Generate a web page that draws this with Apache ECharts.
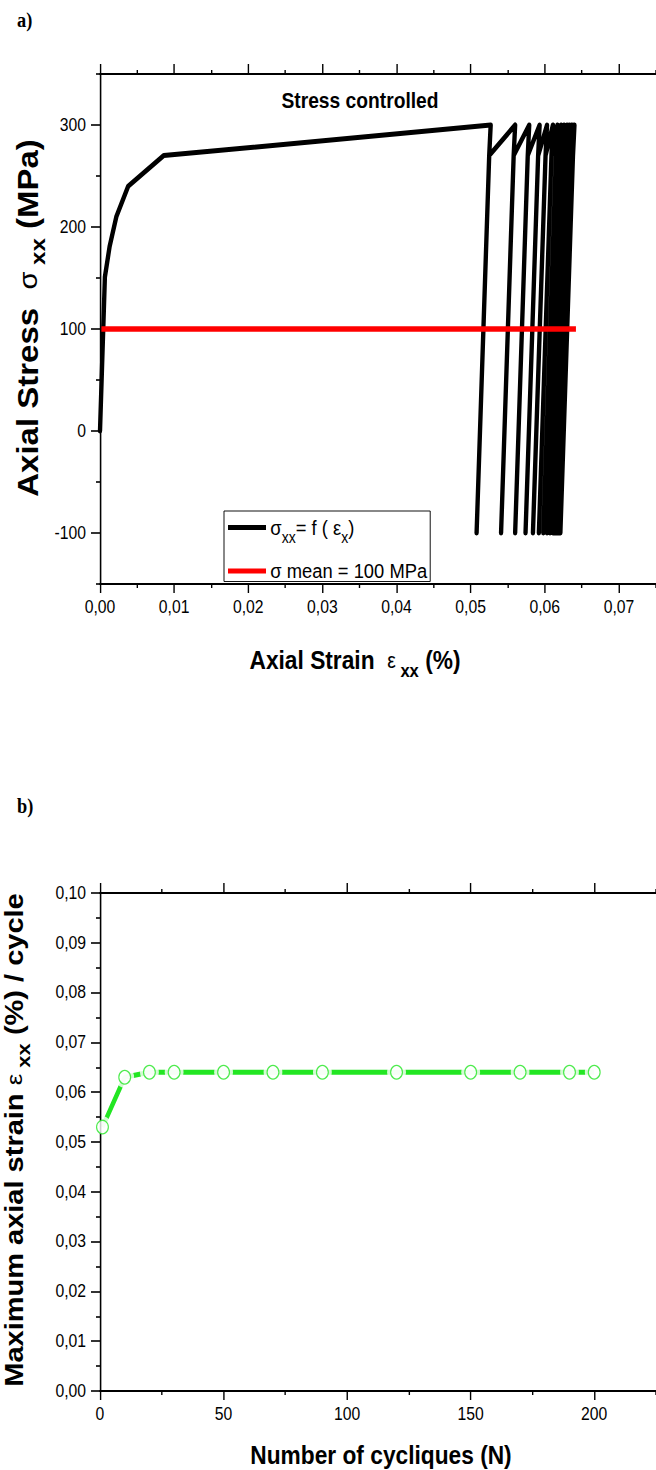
<!DOCTYPE html>
<html><head><meta charset="utf-8">
<script src="https://cdn.jsdelivr.net/npm/echarts@6/dist/echarts.min.js"></script>
<style>
html,body{margin:0;padding:0;background:#fff;overflow:hidden}
#wrap{width:656px;height:1470px;overflow:hidden;position:relative}
#c{width:750px;height:1470px;transform:scaleX(0.874667);transform-origin:0 0}
</style>
</head><body><div id="wrap"><div id="c"></div></div>
<script>
// ---------- Panel a) : axial stress vs axial strain ----------
const loadStrain = [0, 0.00066, 0.0013, 0.0022, 0.0038, 0.0086, 0.0527];
const loadStress = [0, 151, 181, 210, 240, 270, 300];
const peakStrain   = [0.0527, 0.0560, 0.0579, 0.0593, 0.0603, 0.0611, 0.0617, 0.0622, 0.0626, 0.0630, 0.0633, 0.0636, 0.0638, 0.0640];
const kneeStrain   = [0.0525, 0.0558, 0.0577, 0.0591, 0.0601, 0.0609, 0.0615, 0.0620, 0.0624, 0.0628, 0.0631, 0.0634, 0.0636, 0.0638];
const valleyStrain = [0.0508, 0.0541, 0.0560, 0.0574, 0.0584, 0.0592, 0.0598, 0.0603, 0.0607, 0.0611, 0.0614, 0.0617, 0.0619, 0.0621];
const peakStress = 300, kneeStress = 270, valleyStress = -100;
const meanStrain = [0, 0.0642];
const meanStress = [100, 100];
const xTicksA = [0, 0.01, 0.02, 0.03, 0.04, 0.05, 0.06, 0.07];
const xMinorA = [0.005, 0.015, 0.025, 0.035, 0.045, 0.055, 0.065, 0.075];
const yTicksA = [-100, 0, 100, 200, 300];
const yMinorA = [-150, -50, 50, 150, 250, 350];

// ---------- Panel b) : maximum axial strain per cycle ----------
const cycleN    = [1, 10, 20, 30, 50, 70, 90, 120, 150, 170, 190, 200];
const maxStrain = [0.053, 0.063, 0.064, 0.064, 0.064, 0.064, 0.064, 0.064, 0.064, 0.064, 0.064, 0.064];
const xTicksB = [0, 50, 100, 150, 200];
const xMinorB = [25, 75, 125, 175, 225];
const yTicksB = [0, 0.01, 0.02, 0.03, 0.04, 0.05, 0.06, 0.07, 0.08, 0.09, 0.10];
const yMinorB = [0.005, 0.015, 0.025, 0.035, 0.045, 0.055, 0.065, 0.075, 0.085, 0.095];

// build paths from the arrays
const stressPath = loadStrain.map((x, i) => [x, loadStress[i]]);
for (let i = 0; i < peakStrain.length; i++) {
  stressPath.push([kneeStrain[i], kneeStress]);
  stressPath.push([valleyStrain[i], valleyStress]);
  if (i < peakStrain.length - 1) {
    stressPath.push([kneeStrain[i], kneeStress]);
    stressPath.push([peakStrain[i + 1], peakStress]);
  }
}
const meanPath = meanStrain.map((x, i) => [x, meanStress[i]]);
const cyclePath = cycleN.map((n, i) => [n, maxStrain[i]]);

// the original figure is horizontally condensed: draw on a wider canvas and squeeze it
const SQ = 656 / 750;
const px = v => v / SQ;
const SANS = "'Liberation Sans',Arial,sans-serif";
const comma2 = v => v.toFixed(2).replace('.', ',');
const GREEN = '#22e622';

function ax(grid, pos, min, max, vals, len, opts) {
  opts = opts || {};
  return {
    gridIndex: grid, type: 'value', position: pos, min: min, max: max, z: 5,
    axisLine: { show: !!opts.line, onZero: false, lineStyle: { color: '#000', width: 1.8 } },
    axisTick: { show: true, inside: false, customValues: vals, length: len, lineStyle: { color: '#000', width: 1.6 } },
    axisLabel: opts.fmt ? { show: true, customValues: vals, formatter: opts.fmt, margin: opts.margin,
      fontFamily: SANS, fontSize: 18, color: '#000' } : { show: false },
    splitLine: { show: false }
  };
}

const chart = echarts.init(document.getElementById('c'), null, { renderer: 'svg' });
chart.setOption({
  animation: false,
  backgroundColor: '#fff',
  grid: [
    { left: px(100), top: 74, width: px(564.75), height: 510 },
    { left: px(100), top: 893, width: px(563.6), height: 498 }
  ],
  xAxis: [
    ax(0, 'bottom', 0, 0.075, xTicksA, 9, { line: true, fmt: comma2, margin: 14 }),
    ax(0, 'bottom', 0, 0.075, xMinorA, 4),
    ax(0, 'top', 0, 0.075, xTicksA, 10, { line: true }),
    ax(0, 'top', 0, 0.075, xMinorA, 4),
    ax(1, 'bottom', 0, 225, xTicksB, 9, { line: true, fmt: v => String(v), margin: 14 }),
    ax(1, 'bottom', 0, 225, xMinorB, 4),
    ax(1, 'top', 0, 225, xTicksB, 10, { line: true }),
    ax(1, 'top', 0, 225, xMinorB, 4)
  ],
  yAxis: [
    ax(0, 'left', -150, 350, yTicksA, px(9), { line: true, fmt: v => String(v), margin: px(14) }),
    ax(0, 'left', -150, 350, yMinorA, px(4)),
    ax(1, 'left', 0, 0.1, yTicksB, px(9), { line: true, fmt: comma2, margin: px(14) }),
    ax(1, 'left', 0, 0.1, yMinorB, px(4))
  ],
  legend: {
    data: ['stress', 'mean'],
    orient: 'vertical', left: px(224), top: 511,
    padding: [6, px(3), 0, px(4)], itemGap: 15,
    itemWidth: px(38), itemHeight: 5, icon: 'rect',
    borderColor: '#000', borderWidth: 1, backgroundColor: '#fff',
    selectedMode: false, z: 10,
    formatter: name => name === 'stress'
      ? '{t|σ}{s|xx}{t|= f ( ε}{s|x}{t|)}'
      : '{m|σ mean = 100 MPa}',
    textStyle: {
      color: '#000', fontFamily: SANS, fontSize: 21,
      rich: {
        t: { fontFamily: SANS, fontSize: 21, color: '#000', lineHeight: 36, verticalAlign: 'middle' },
        s: { fontFamily: SANS, fontSize: 16, color: '#000', lineHeight: 16, verticalAlign: 'bottom' },
        m: { fontFamily: SANS, fontSize: 21, color: '#000', lineHeight: 26 }
      }
    }
  },
  series: [
    { name: 'stress', type: 'line', xAxisIndex: 0, yAxisIndex: 0, data: stressPath,
      showSymbol: false, symbol: 'none', color: '#000', z: 3,
      lineStyle: { color: '#000', width: 5, join: 'round', cap: 'round' } },
    { name: 'mean', type: 'line', xAxisIndex: 0, yAxisIndex: 0, data: meanPath,
      showSymbol: false, symbol: 'none', color: '#ff0000', z: 4,
      lineStyle: { color: '#ff0000', width: 5.5, cap: 'butt' } },
    { name: 'cycleLine', type: 'line', xAxisIndex: 4, yAxisIndex: 2, data: cyclePath,
      symbol: 'none', z: 1, color: GREEN,
      lineStyle: { color: GREEN, width: 5 } },
    { name: 'cycleGap', type: 'scatter', xAxisIndex: 4, yAxisIndex: 2, data: cyclePath,
      symbol: 'circle', symbolSize: 21.5, z: 1.2, itemStyle: { color: '#fff' } },
    { name: 'cycleMark', type: 'scatter', xAxisIndex: 4, yAxisIndex: 2, data: cyclePath,
      symbol: 'circle', symbolSize: 13.5, z: 6,
      itemStyle: { color: '#fff', borderColor: GREEN, borderWidth: 1.3 } }
  ],
  graphic: [
    { type: 'text', x: px(17), y: 20, style: { text: 'a)', font: "bold 21px 'Liberation Serif'", fill: '#000', verticalAlign: 'middle' } },
    { type: 'text', x: px(17), y: 806, style: { text: 'b)', font: "bold 21px 'Liberation Serif'", fill: '#000', verticalAlign: 'middle' } },
    { type: 'text', x: px(360), y: 100, style: { text: 'Stress controlled', font: "bold 22px " + SANS, fill: '#000', align: 'center', verticalAlign: 'middle' } },
    { type: 'text', x: px(355), y: 660, style: {
        text: '{b|Axial Strain  }{e|ε}{s| xx}{b| (%)}', align: 'center', verticalAlign: 'middle',
        rich: {
          b: { fontFamily: SANS, fontWeight: 'bold', fontSize: 26, lineHeight: 40, fill: '#000' },
          e: { fontFamily: SANS, fontSize: 22, lineHeight: 40, fill: '#000' },
          s: { fontFamily: SANS, fontWeight: 'bold', fontSize: 19, lineHeight: 19, verticalAlign: 'bottom', fill: '#000' }
        } } },
    { type: 'text', x: px(381), y: 1455, style: { text: 'Number of cycliques (N)', font: "bold 26px " + SANS, fill: '#000', align: 'center', verticalAlign: 'middle' } },
    { type: 'text', x: px(28), y: 318, rotation: Math.PI / 2, style: {
        text: '{b|Axial Stress  }{e|σ}{s| xx}{b| (MPa)}', align: 'center', verticalAlign: 'middle',
        rich: {
          b: { fontFamily: SANS, fontWeight: 'bold', fontSize: 33, lineHeight: 46, fill: '#000' },
          e: { fontFamily: SANS, fontSize: 29, lineHeight: 46, fill: '#000' },
          s: { fontFamily: SANS, fontWeight: 'bold', fontSize: 24, lineHeight: 24, verticalAlign: 'bottom', fill: '#000' }
        } } },
    { type: 'text', x: px(14), y: 1140, rotation: Math.PI / 2, style: {
        text: '{b|Maximum axial strain }{e|ε}{s| xx}{b| (%) / cycle}', align: 'center', verticalAlign: 'middle',
        rich: {
          b: { fontFamily: SANS, fontWeight: 'bold', fontSize: 29, lineHeight: 42, fill: '#000' },
          e: { fontFamily: SANS, fontSize: 26, lineHeight: 42, fill: '#000' },
          s: { fontFamily: SANS, fontWeight: 'bold', fontSize: 22, lineHeight: 22, verticalAlign: 'bottom', fill: '#000' }
        } } }
  ]
});
</script></body></html>
